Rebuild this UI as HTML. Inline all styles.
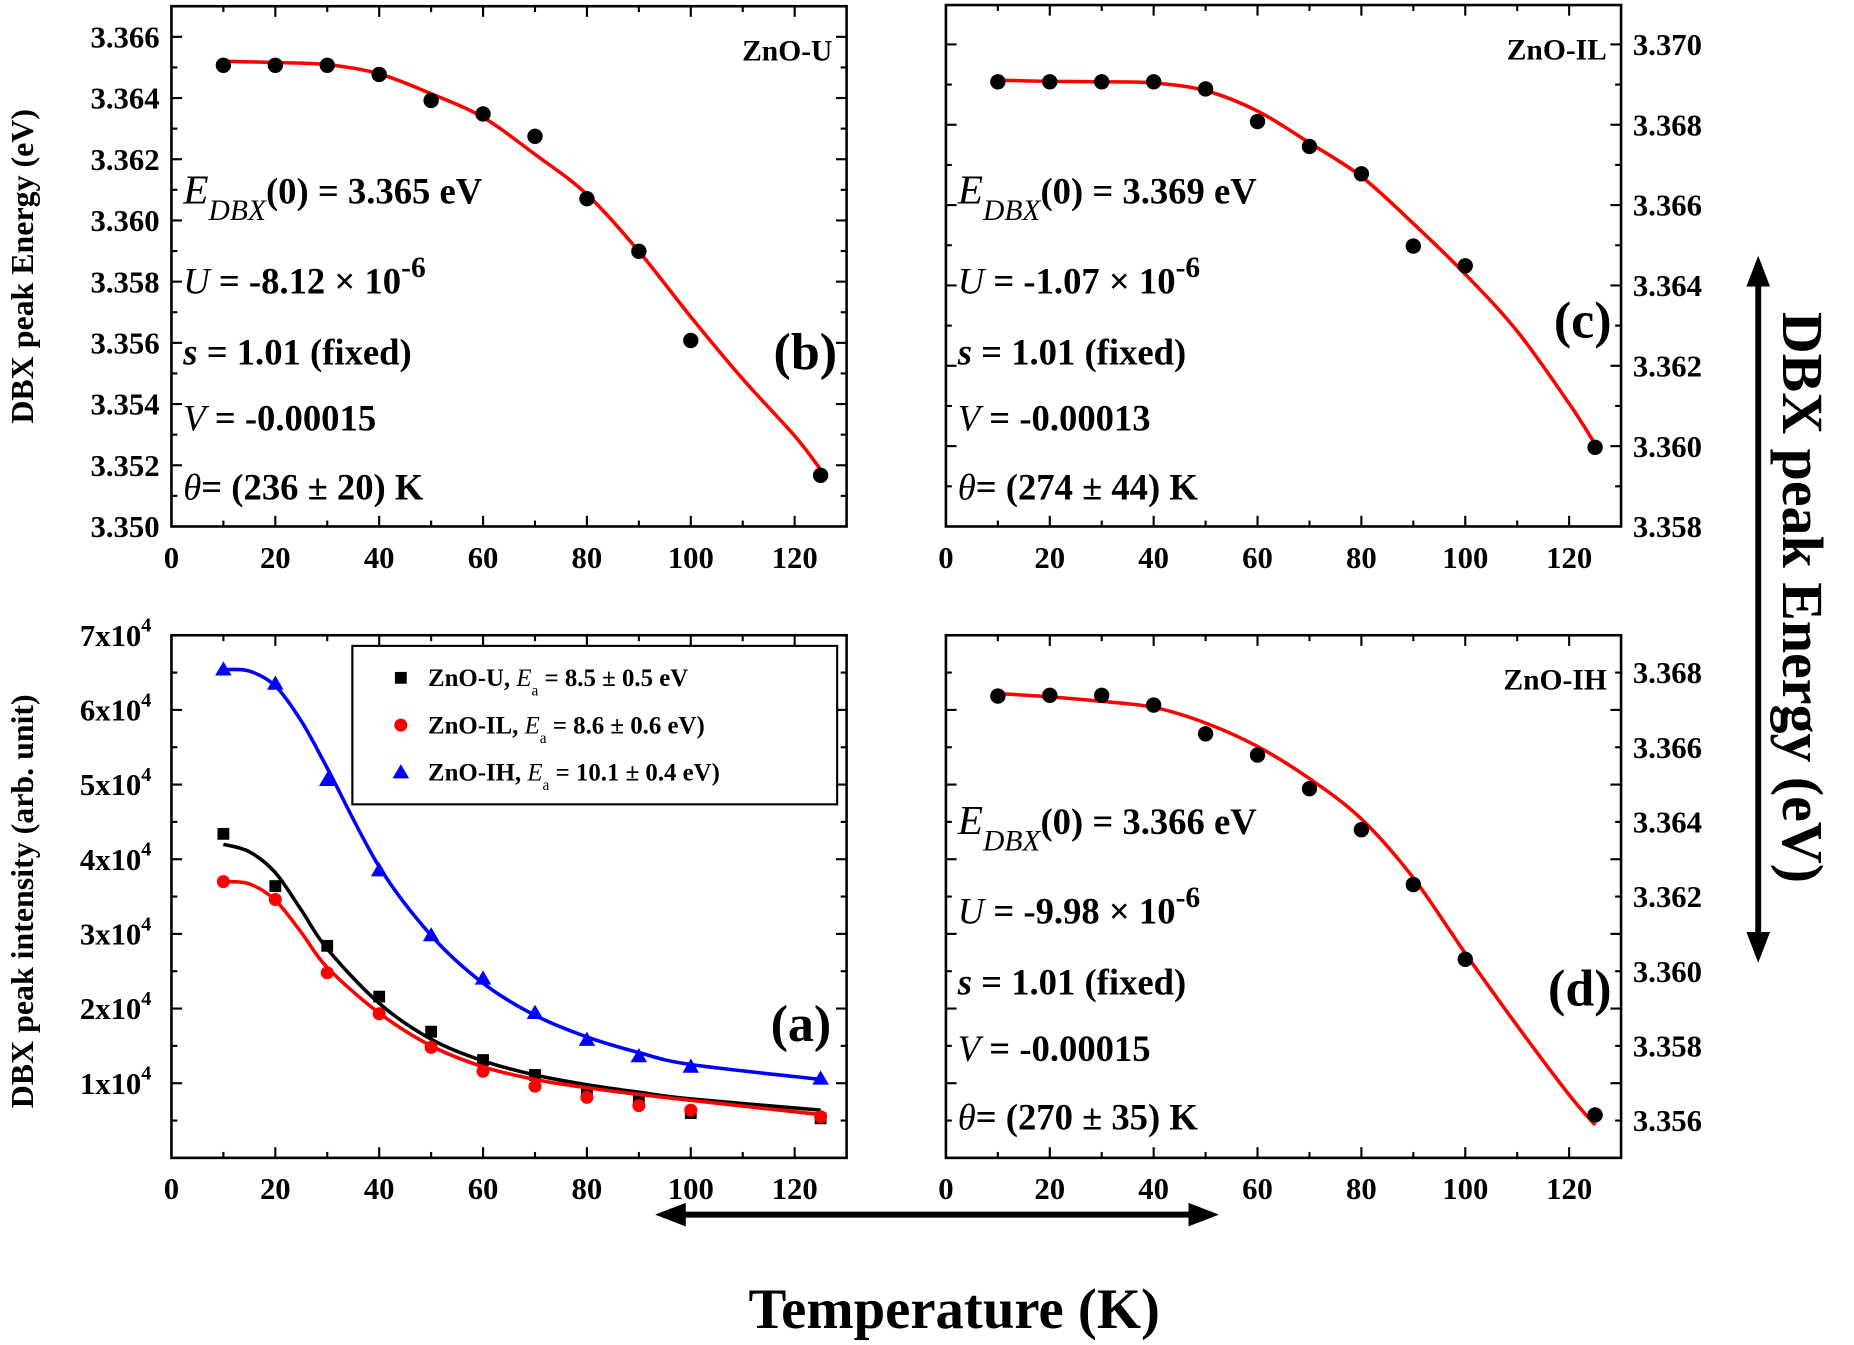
<!DOCTYPE html>
<html><head><meta charset="utf-8"><style>
html,body{margin:0;padding:0;background:#fff;}
svg{display:block;font-family:"Liberation Serif",serif;font-weight:bold;}
</style></head><body>
<svg id="fig" width="1854" height="1345" viewBox="0 0 1568 1137" xmlns="http://www.w3.org/2000/svg">
<defs>
<marker id="ah" markerWidth="26" markerHeight="20" refX="20" refY="10" orient="auto-start-reverse" markerUnits="userSpaceOnUse"><path d="M0,0 L26,10 L0,20 z" fill="#000"/></marker>
</defs>
</svg>
<script>
// ---- Data ----
const temps = [10,20,30,40,50,60,70,80,90,100,125];
const fitT = [10,20,30,40,50,60,70,80,90,100,110,120,125];
// panel b (ZnO-U)
const bPts = [3.36507,3.36507,3.36507,3.36477,3.36392,3.36348,3.36275,3.36071,3.35899,3.35608,3.35167];
const bFit = [3.3652,3.36516,3.36509,3.36479,3.36414,3.36337,3.36216,3.36085,3.35899,3.35685,3.35482,3.35296,3.35186];
// panel c (ZnO-IL)
const cPts = [3.36907,3.36907,3.36907,3.36907,3.36889,3.36808,3.36746,3.36678,3.36498,3.36449,3.35997];
const cFit = [3.36911,3.36908,3.36907,3.36904,3.36885,3.36834,3.36755,3.36671,3.36554,3.36428,3.36286,3.36106,3.36005];
// panel d (ZnO-IH)
const dPts = [3.36737,3.36739,3.36739,3.36713,3.36636,3.36579,3.36489,3.36379,3.36232,3.36032,3.35615];
const dFit = [3.36744,3.36735,3.36723,3.36707,3.36665,3.36602,3.36516,3.36408,3.3625,3.36048,3.35854,3.35669,3.35588];
// panel a (intensity, units of 1e4)
const aFitT = [10,15,20,25,30,40,50,60,70,80,90,100,125];
const uPts = [4.34,3.64,2.84,2.16,1.69,1.31,1.11,0.91,0.78,0.60,0.53];
const uFit = [4.20,4.10,3.82,3.32,2.80,2.07,1.59,1.30,1.11,0.98,0.88,0.79,0.64];
const ilPts = [3.70,3.46,2.48,1.93,1.48,1.16,0.96,0.81,0.70,0.64,0.55];
const ilFit = [3.70,3.67,3.45,3.02,2.55,1.94,1.50,1.22,1.05,0.94,0.85,0.77,0.58];
const ihPts = [6.54,6.35,5.06,3.85,2.98,2.40,1.94,1.58,1.36,1.22,1.06];
const ihFit = [6.54,6.52,6.32,5.85,5.22,3.90,2.98,2.34,1.91,1.62,1.41,1.25,1.05];
const xTicks = [0,20,40,60,80,100,120];
const bTicks = ["3.350","3.352","3.354","3.356","3.358","3.360","3.362","3.364","3.366"];
const cTicks = ["3.358","3.360","3.362","3.364","3.366","3.368","3.370"];
const dTicks = ["3.356","3.358","3.360","3.362","3.364","3.366","3.368"];
const aTicks = [1,2,3,4,5,6,7];

const NS="http://www.w3.org/2000/svg";
const svg=document.getElementById('fig');
function el(tag,attrs,parent,text){const e=document.createElementNS(NS,tag);for(const k in attrs)e.setAttribute(k,attrs[k]);if(text!==undefined)e.textContent=text;(parent||svg).appendChild(e);return e;}

function makePanel(name,x0,x1,y0,y1,ymin,ymax,minorStep){
  const g=el('g',{});
  
  
  const sx=v=>x0+(v-0)/130*(x1-x0);
  const sy=v=>y1-(v-ymin)/(ymax-ymin)*(y1-y0);
  const fr=el('rect',{x:x0,y:y0,width:x1-x0,height:y1-y0,fill:'none',stroke:'#000','stroke-width':2.2},g);
  
  
  for(let t=0;t<=130;t+=10){
    if(t===0||t===130)continue;
    const L=(t%20===0)?9:5;
    el('line',{x1:sx(t),x2:sx(t),y1:y1,y2:y1-L,stroke:'#000','stroke-width':1.8},g);
    el('line',{x1:sx(t),x2:sx(t),y1:y0,y2:y0+L,stroke:'#000','stroke-width':1.8},g);
  }
  let k=0;
  for(let v=ymin;v<=ymax+1e-9;v+=minorStep){
    const y=sy(v);
    if(y>y0+1&&y<y1-1){
      const L=(k%2===0)?9:5;
      el('line',{x1:x0,x2:x0+L,y1:y,y2:y,stroke:'#000','stroke-width':1.8},g);
      el('line',{x1:x1,x2:x1-L,y1:y,y2:y,stroke:'#000','stroke-width':1.8},g);
    }
    k++;
  }
  xTicks.forEach(t=>{
    const tx=el('text',{x:sx(t),y:y1+35,'text-anchor':'middle','font-size':26},g,String(t));
    
    
  });
  return {g,sx,sy};
}
function curve(pts){
  let d='M'+pts[0][0]+','+pts[0][1];
  for(let i=0;i<pts.length-1;i++){
    const p0=pts[Math.max(0,i-1)],p1=pts[i],p2=pts[i+1],p3=pts[Math.min(pts.length-1,i+2)];
    const c1=[p1[0]+(p2[0]-p0[0])/6,p1[1]+(p2[1]-p0[1])/6];
    const c2=[p2[0]-(p3[0]-p1[0])/6,p2[1]-(p3[1]-p1[1])/6];
    d+=' C'+c1[0]+','+c1[1]+' '+c2[0]+','+c2[1]+' '+p2[0]+','+p2[1];
  }
  return d;
}
function energyPanel(name,x0,y0,y1,ymin,ymax,pts,fit,ticks,tickSide,sample,eText,uText,vText,thText,tag,tagY,textTop){
  const x1=x0+571;
  const P=makePanel(name,x0,x1,y0,y1,ymin,ymax,0.001);
  ticks.forEach(t=>{
    const v=parseFloat(t);
    const tx=el('text',{x:tickSide==='left'?x0-10:x1+10,y:P.sy(v)+9,'text-anchor':tickSide==='left'?'end':'start','font-size':26},P.g,t);
    
    
  });
  const fp=el('path',{d:curve(fitT.map((t,i)=>[P.sx(t),P.sy(fit[i])])),fill:'none',stroke:'#f00','stroke-width':3},P.g);
  
  
  temps.forEach((t,i)=>{
    const c=el('circle',{cx:P.sx(t),cy:P.sy(pts[i]),r:6.5,fill:'#000'},P.g);
    
    
  });
  const st=el('text',{x:x1-12,y:y0+46,'text-anchor':'end','font-size':25},P.g,sample);
  
  
  const tx=x0+10, ty=textTop;
  const e=el('text',{x:tx,y:ty,'font-size':31},P.g);
  
  
  el('tspan',{'font-style':'italic','font-weight':'normal','font-size':35},e,'E');
  el('tspan',{'font-style':'italic','font-weight':'normal','font-size':25,dy:14},e,'DBX');
  el('tspan',{dy:-14},e,'(0) = '+eText+' eV');
  const u=el('text',{x:tx,y:ty+76,'font-size':31},P.g);
  
  
  el('tspan',{'font-style':'italic','font-weight':'normal'},u,'U');
  el('tspan',{},u,' = '+uText+' × 10');
  el('tspan',{dy:-14,'font-size':25},u,'-6');
  const s=el('text',{x:tx,y:ty+136,'font-size':31},P.g);
  
  
  el('tspan',{'font-style':'italic'},s,'s');
  el('tspan',{},s,' = 1.01 (fixed)');
  const v=el('text',{x:tx,y:ty+192,'font-size':31},P.g);
  
  
  el('tspan',{'font-style':'italic','font-weight':'normal'},v,'V');
  el('tspan',{},v,' = '+vText);
  const th=el('text',{x:tx,y:ty+250,'font-size':31},P.g);
  
  
  el('tspan',{'font-style':'italic','font-weight':'normal'},th,'θ');
  el('tspan',{},th,'= ('+thText+') K');
  const tg=el('text',{x:x1-8,y:tagY,'text-anchor':'end','font-size':44},P.g,tag);
  
  
}
energyPanel('panel-b-zno-u',145,5,445,3.350,3.367,bPts,bFit,bTicks,'left','ZnO-U','3.365','-8.12','-0.00015','236 ± 20','(b)',312,172);
energyPanel('panel-c-zno-il',800,4,445,3.358,3.37098,cPts,cFit,cTicks,'right','ZnO-IL','3.369','-1.07','-0.00013','274 ± 44','(c)',285,172);
energyPanel('panel-d-zno-ih',800,537,979,3.355,3.369,dPts,dFit,dTicks,'right','ZnO-IH','3.366','-9.98','-0.00015','270 ± 35','(d)',850,705);

// panel a
const A=makePanel('panel-a-intensity',145,716,537,979,0,7,0.5);
aTicks.forEach(t=>{
  const tx=el('text',{x:128,y:A.sy(t)+9,'text-anchor':'end','font-size':26},A.g);
  
  
  el('tspan',{},tx,t+'x10');
  el('tspan',{dy:-12,'font-size':17},tx,'4');
});
const series=[[uFit,uPts,'#000','square','zno-u'],[ilFit,ilPts,'#f00','circle','zno-il'],[ihFit,ihPts,'#00f','triangle','zno-ih']];
series.forEach(s=>{
  const p=el('path',{d:curve(aFitT.map((t,i)=>[A.sx(t),A.sy(s[0][i])])),fill:'none',stroke:s[2],'stroke-width':3},A.g);
  
  
  temps.forEach((t,i)=>{
    const x=A.sx(t),y=A.sy(s[1][i]);let m;
    if(s[3]==='square')m=el('rect',{x:x-5,y:y-5,width:10,height:10,fill:s[2]},A.g);
    else if(s[3]==='circle')m=el('circle',{cx:x,cy:y,r:5.5,fill:s[2]},A.g);
    else m=el('path',{d:`M${x},${y-7} L${x+7},${y+5} L${x-7},${y+5} z`,fill:s[2]},A.g);
    
    
  });
});
// legend
const lg=el('g',{},A.g);


el('rect',{x:298,y:546,width:410,height:134,fill:'#fff',stroke:'#000','stroke-width':1.8},lg);
const legItems=[['ZnO-U, ','= 8.5 ± 0.5 eV','#000','square'],['ZnO-IL, ','= 8.6 ± 0.6 eV)','#f00','circle'],['ZnO-IH, ','= 10.1 ± 0.4 eV)','#00f','triangle']];
legItems.forEach((it,i)=>{
  const y=573+i*40;
  if(it[3]==='square')el('rect',{x:334,y:y-5,width:10,height:10,fill:it[2]},lg);
  else if(it[3]==='circle')el('circle',{cx:339,cy:y,r:5.5,fill:it[2]},lg);
  else el('path',{d:`M339,${y-7} L346,${y+5} L332,${y+5} z`,fill:it[2]},lg);
  const t=el('text',{x:362,y:y+7,'font-size':21},lg);
  
  
  el('tspan',{},t,it[0]);
  el('tspan',{'font-style':'italic','font-weight':'normal'},t,'E');
  el('tspan',{dy:8,'font-size':13,'font-weight':'normal'},t,'a');
  el('tspan',{dy:-8},t,' '+it[1]);
});
const al=el('text',{x:703,y:880,'text-anchor':'end','font-size':44},A.g,'(a)');



// axis titles
const yt1=el('text',{transform:'translate(28,225) rotate(-90)','text-anchor':'middle','font-size':27},svg,'DBX peak Energy (eV)');


const yt2=el('text',{transform:'translate(28,762) rotate(-90)','text-anchor':'middle','font-size':27},svg,'DBX peak intensity (arb. unit)');


const yt3=el('text',{transform:'translate(1508,505) rotate(90)','text-anchor':'middle','font-size':49},svg,'DBX peak Energy (eV)');


const xt=el('text',{x:807,y:1123,'text-anchor':'middle','font-size':48},svg,'Temperature (K)');


// arrows
const va=el('line',{x1:1487,y1:222,x2:1487,y2:808,stroke:'#000','stroke-width':5,'marker-start':'url(#ah)','marker-end':'url(#ah)'});


const ha=el('line',{x1:560,y1:1027,x2:1025,y2:1027,stroke:'#000','stroke-width':5,'marker-start':'url(#ah)','marker-end':'url(#ah)'});


</script>
</body></html>
